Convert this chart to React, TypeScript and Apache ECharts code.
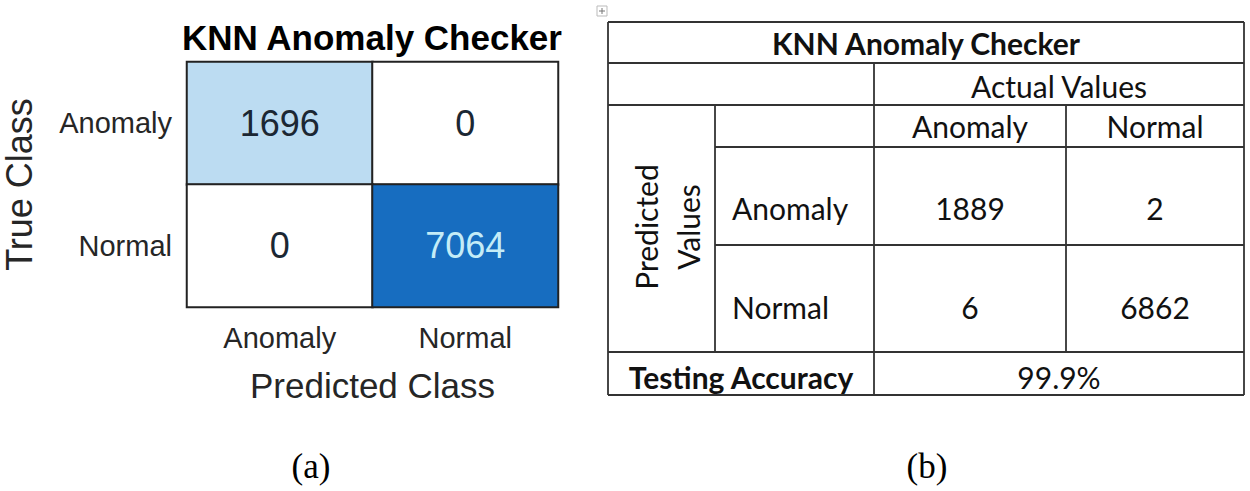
import React, { useEffect, useRef } from "react";
import * as echarts from "echarts";

// ---- data ----
const predictedClasses = ["Anomaly", "Normal"];
const trueClasses = ["Anomaly", "Normal"];
// rows = true class, cols = predicted class
const knnMatrix = [
  [1696, 0],
  [0, 7064],
];
const leftTitle = "KNN Anomaly Checker";
const xAxisName = "Predicted Class";
const yAxisName = "True Class";

const tableTitle = "KNN Anomaly Checker";
const tableActualHeader = "Actual Values";
const tablePredictedHeader = "Predicted\nValues";
const tableActualClasses = ["Anomaly", "Normal"];
const tablePredictedClasses = ["Anomaly", "Normal"];
// rows = predicted, cols = actual
const tableMatrix = [
  [1889, 2],
  [6, 6862],
];
const accuracyLabel = "Testing Accuracy";
const accuracyValue = "99.9%";
const panelLabels = ["(a)", "(b)"];

// ---- table layout ----
const TX = [608, 715, 874, 1066, 1244];
const TY = [22, 63, 105, 147, 245, 352, 395];
const rowTextY = [208, 307];
const TABLE_FONT = "Lato";
const TABLE_SIZE = 30;
const LINE = { stroke: "#333", lineWidth: 1.8 };

function tableGraphics(): any[] {
  const els: any[] = [];
  const hline = (y: number, x1: number, x2: number) =>
    els.push({ type: "line", shape: { x1, y1: y, x2, y2: y }, style: LINE, silent: true });
  const vline = (x: number, y1: number, y2: number) =>
    els.push({ type: "line", shape: { x1: x, y1, x2: x, y2 }, style: LINE, silent: true });
  const text = (t: string, x: number, y: number, opts: any = {}) =>
    els.push({
      type: "text",
      x,
      y,
      rotation: opts.rotation || 0,
      silent: true,
      style: {
        text: t,
        fill: "#111",
        fontSize: opts.fontSize || TABLE_SIZE,
        fontFamily: TABLE_FONT,
        fontWeight: opts.bold ? "bold" : "normal",
        textAlign: opts.align || "center",
        textVerticalAlign: "middle",
        align: opts.align || "center",
        verticalAlign: "middle",
        lineHeight: opts.lineHeight,
      },
    });

  // outer box
  hline(TY[0], TX[0], TX[4]);
  hline(TY[6], TX[0], TX[4]);
  vline(TX[0], TY[0], TY[6]);
  vline(TX[4], TY[0], TY[6]);
  // inner lines
  hline(TY[1], TX[0], TX[4]);
  hline(TY[2], TX[0], TX[4]);
  hline(TY[3], TX[1], TX[4]);
  hline(TY[4], TX[1], TX[4]);
  hline(TY[5], TX[0], TX[4]);
  vline(TX[1], TY[2], TY[5]);
  vline(TX[2], TY[1], TY[6]);
  vline(TX[3], TY[2], TY[5]);

  // texts
  text(tableTitle, (TX[0] + TX[4]) / 2, 43, { bold: true });
  text(tableActualHeader, (TX[2] + TX[4]) / 2, 86);
  tableActualClasses.forEach((c, i) => text(c, (TX[2 + i] + TX[3 + i]) / 2, 126));
  tablePredictedClasses.forEach((c, r) => {
    text(c, TX[1] + 17, rowTextY[r], { align: "left" });
    tableMatrix[r].forEach((v, ci) =>
      text(String(v), (TX[2 + ci] + TX[3 + ci]) / 2, rowTextY[r])
    );
  });
  text(tablePredictedHeader, 667, 227, { rotation: Math.PI / 2, lineHeight: 42 });
  text(accuracyLabel, (TX[0] + TX[2]) / 2, 377, { bold: true });
  text(accuracyValue, (TX[2] + TX[4]) / 2, 377);

  // small move handle icon
  els.push({ type: "rect", shape: { x: 597, y: 6, width: 10, height: 10 }, style: { fill: "#fff", stroke: "#bbb", lineWidth: 1 }, silent: true });
  els.push({ type: "line", shape: { x1: 602, y1: 8, x2: 602, y2: 14 }, style: { stroke: "#777", lineWidth: 1 }, silent: true });
  els.push({ type: "line", shape: { x1: 599, y1: 11, x2: 605, y2: 11 }, style: { stroke: "#777", lineWidth: 1 }, silent: true });
  return els;
}

export default function App() {
  const ref = useRef<HTMLDivElement>(null);
  useEffect(() => {
    document.body.style.margin = "0";
    const chart = echarts.init(ref.current!, null, { renderer: "svg" });
    const maxVal = Math.max(...knnMatrix.flat());
    const data: any[] = [];
    trueClasses.forEach((_, r) =>
      predictedClasses.forEach((_, c) => {
        const v = knnMatrix[r][c];
        data.push({
          value: [c, r, v],
          label: { color: v > maxVal / 2 ? "#c4ecf7" : "#1b2733" },
        });
      })
    );
    const option: any = {
      animation: false,
      backgroundColor: "#ffffff",
      grid: { left: 185, top: 62, width: 373, height: 245 },
      xAxis: {
        type: "category",
        data: predictedClasses,
        position: "bottom",
        axisLine: { show: false },
        axisTick: { show: false },
        splitLine: { show: false },
        axisLabel: { fontSize: 29, color: "#262626", margin: 16, fontFamily: "Liberation Sans" },
        name: xAxisName,
        nameLocation: "middle",
        nameGap: 61,
        nameTextStyle: { fontSize: 35, color: "#262626", fontFamily: "Liberation Sans" },
      },
      yAxis: {
        type: "category",
        data: trueClasses,
        inverse: true,
        axisLine: { show: false },
        axisTick: { show: false },
        splitLine: { show: false },
        axisLabel: { fontSize: 29, color: "#262626", margin: 15, fontFamily: "Liberation Sans" },
        name: yAxisName,
        nameLocation: "middle",
        nameGap: 150,
        nameRotate: 90,
        nameTextStyle: { fontSize: 36, color: "#262626", fontFamily: "Liberation Sans" },
      },
      visualMap: {
        show: false,
        type: "continuous",
        min: 0,
        max: maxVal,
        dimension: 2,
        seriesIndex: 0,
        inRange: { color: ["#ffffff", "#73b6e4", "#176dc0"] },
      },
      series: [
        {
          type: "heatmap",
          data,
          label: {
            show: true,
            fontSize: 36,
            fontFamily: "Liberation Sans",
            formatter: (p: any) => String(p.value[2]),
          },
          itemStyle: { borderColor: "#222", borderWidth: 2 },
          emphasis: { disabled: true },
        },
      ],
      graphic: [
        {
          type: "text",
          x: 372,
          y: 37,
          silent: true,
          style: {
            text: leftTitle,
            fill: "#000",
            fontSize: 35,
            fontWeight: "bold",
            fontFamily: "Liberation Sans",
            textAlign: "center",
            textVerticalAlign: "middle",
            align: "center",
            verticalAlign: "middle",
          },
        },
        ...tableGraphics(),
        ...panelLabels.map((t, i) => ({
          type: "text",
          x: i === 0 ? 311 : 927,
          y: 466,
          silent: true,
          style: {
            text: t,
            fill: "#000",
            fontSize: 35,
            fontFamily: "Liberation Serif",
            textAlign: "center",
            textVerticalAlign: "middle",
            align: "center",
            verticalAlign: "middle",
          },
        })),
      ],
    };
    chart.setOption(option);
    return () => chart.dispose();
  }, []);
  return <div ref={ref} style={{ width: 1250, height: 491 }} />;
}
